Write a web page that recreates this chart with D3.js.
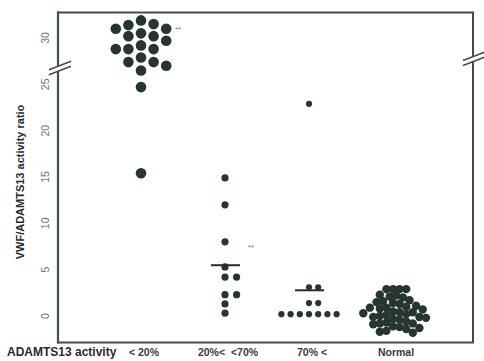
<!DOCTYPE html>
<html>
<head>
<meta charset="utf-8">
<script src="https://cdn.jsdelivr.net/npm/d3@7"></script>
<style>
  body { margin: 0; background: #fff; }
  svg { display: block; font-family: "Liberation Sans", Arial, sans-serif; }
</style>
</head>
<body>
<div id="chart"></div>
<script>
// groups along the x axis
var groups = ["< 20%", "20%<  <70%", "70% <", "Normal"];

// VWF/ADAMTS13 activity ratio, one array per group
var lowActivity = [31.9, 31.5, 31.4, 31.0, 31.0, 30.5, 30.2, 30.2, 29.7, 29.2,
                   28.8, 28.8, 28.8, 27.9, 27.4, 27.4, 27.0, 26.5, 24.7, 15.4];
var midActivity = [14.9, 12.0, 8.0, 5.3, 4.2, 4.2, 2.3, 2.3, 1.3, 0.3];
var highActivity = [22.9, 3.1, 3.1, 1.4, 1.4, 0.2, 0.2, 0.2, 0.2, 0.2, 0.2, 0.2];
var normalActivity = [2.9, 2.9, 2.9, 2.9, 2.3, 2.2, 2.1, 2.0, 1.7, 1.6, 1.5, 1.4, 1.3,
                      1.1, 1.0, 0.9, 0.9, 0.8, 0.7, 0.5, 0.4, 0.4, 0.3, 0.2, 0.1,
                      0.0, -0.1, -0.1, -0.2, -0.3, -0.4, -0.6, -0.7, -0.8, -0.8, -0.9,
                      -1.1, -1.2, -1.3, -1.4, -1.6, -1.7, -1.8];

var yTicks = [0, 5, 10, 15, 20, 25, 30];
var sigMarks = ["**", "**", "", ""];
var sigValues = [31.0, 7.4, null, null];

var series = [lowActivity, midActivity, highActivity, normalActivity];

var W = 484, H = 361;
var frame = { left: 58, right: 473, top: 12.5, bottom: 342.5 };

var svg = d3.select("#chart").append("svg")
    .attr("width", W)
    .attr("height", H);

var x = d3.scalePoint()
    .domain(groups)
    .range([141, 393]);

var y = d3.scaleLinear()
    .domain([0, 30])
    .range([316, 38]);

// dot look per group
var dotStyle = [
    { r: 5.3, minDist: 9, step: 6.3, mean: false },
    { r: 3.6, minDist: 7, step: 11.6, mean: true },
    { r: 3.1, minDist: 6.5, step: 9.2, mean: true },
    { r: 4.2, minDist: 6.6, step: 3.3, mean: false }
];

// simple beeswarm: place each dot at the nearest free horizontal slot
function dodge(values, minDist, step) {
    var placed = [];
    values.slice().sort(function(a, b){ return b - a; }).forEach(function(v){
        var py = y(v);
        for (var k = 0; k < 200; k++) {
            var off = k === 0 ? 0 : (k % 2 === 1 ? 1 : -1) * Math.ceil(k / 2) * step;
            var free = placed.every(function(p){
                return (p.dx - off) * (p.dx - off) + (p.y - py) * (p.y - py) >= minDist * minDist;
            });
            if (free) { placed.push({ v: v, y: py, dx: off }); break; }
        }
    });
    return placed;
}

// frame
svg.append("rect")
    .attr("x", frame.left)
    .attr("y", frame.top)
    .attr("width", frame.right - frame.left)
    .attr("height", frame.bottom - frame.top)
    .attr("fill", "none")
    .attr("stroke", "#4a4a4a")
    .attr("stroke-width", 2);

svg.append("line")
    .attr("x1", frame.left).attr("x2", frame.left)
    .attr("y1", frame.top - 1).attr("y2", frame.bottom + 1)
    .attr("stroke", "#35574d")
    .attr("stroke-width", 2.2);

// axis break marks
function breakMark(cx, cy) {
    var g = svg.append("g").attr("transform", "translate(" + cx + "," + cy + ")");
    g.append("polygon")
        .attr("points", "-11,2 11,-6.5 11,-1.5 -11,7")
        .attr("fill", "#fff");
    g.append("line").attr("x1", -11).attr("y1", 2).attr("x2", 11).attr("y2", -6.5)
        .attr("stroke", "#4a4a4a").attr("stroke-width", 1.6);
    g.append("line").attr("x1", -11).attr("y1", 7).attr("x2", 11).attr("y2", -1.5)
        .attr("stroke", "#4a4a4a").attr("stroke-width", 1.6);
}
breakMark(frame.left + 2, y(26.8));
breakMark(frame.right + 1, y(27.8));

// y tick labels (rotated like the figure)
svg.selectAll(".ytick")
    .data(yTicks)
  .enter().append("text")
    .attr("class", "ytick")
    .attr("transform", function(d){ return "translate(45," + y(d) + ") rotate(-90)"; })
    .attr("text-anchor", "middle")
    .attr("dy", "0.35em")
    .attr("font-size", "10.5px")
    .attr("fill", "#707070")
    .text(function(d){ return d; });

// y axis title
svg.append("text")
    .attr("transform", "translate(20,182) rotate(-90)")
    .attr("text-anchor", "middle")
    .attr("dy", "0.35em")
    .attr("font-size", "11px")
    .attr("font-weight", "bold")
    .attr("fill", "#2a2a2a")
    .text("VWF/ADAMTS13 activity ratio");

// x labels
svg.append("text")
    .attr("x", 7)
    .attr("y", 356)
    .attr("font-size", "12px")
    .attr("font-weight", "bold")
    .attr("fill", "#2a2a2a")
    .text("ADAMTS13 activity");

svg.selectAll(".xlab")
    .data(groups)
  .enter().append("text")
    .attr("class", "xlab")
    .attr("x", function(d){ return x(d) + 3; })
    .attr("y", 356)
    .attr("text-anchor", "middle")
    .attr("font-size", "10.5px")
    .attr("font-weight", "bold")
    .attr("fill", "#3a3a3a")
    .style("white-space", "pre")
    .text(function(d){ return d; });

// dots
var dotColor = "#26352f";
series.forEach(function(values, i){
    var st = dotStyle[i];
    var cx = x(groups[i]);
    var pts = dodge(values, st.minDist, st.step);
    svg.append("g").selectAll("circle")
        .data(pts)
      .enter().append("circle")
        .attr("cx", function(d){ return cx + d.dx; })
        .attr("cy", function(d){ return d.y; })
        .attr("r", st.r)
        .attr("fill", dotColor);

    if (st.mean) {
        var m = d3.mean(values);
        svg.append("line")
            .attr("x1", cx - 14).attr("x2", cx + 15)
            .attr("y1", y(m)).attr("y2", y(m))
            .attr("stroke", "#2a2a2a")
            .attr("stroke-width", 2);
    }

    if (sigMarks[i]) {
        svg.append("text")
            .attr("x", cx + (i === 0 ? 37 : 26))
            .attr("y", y(sigValues[i]))
            .attr("dy", "0.35em")
            .attr("text-anchor", "middle")
            .attr("font-size", "8px")
            .attr("fill", "#777")
            .text(sigMarks[i]);
    }
});
</script>
</body>
</html>
